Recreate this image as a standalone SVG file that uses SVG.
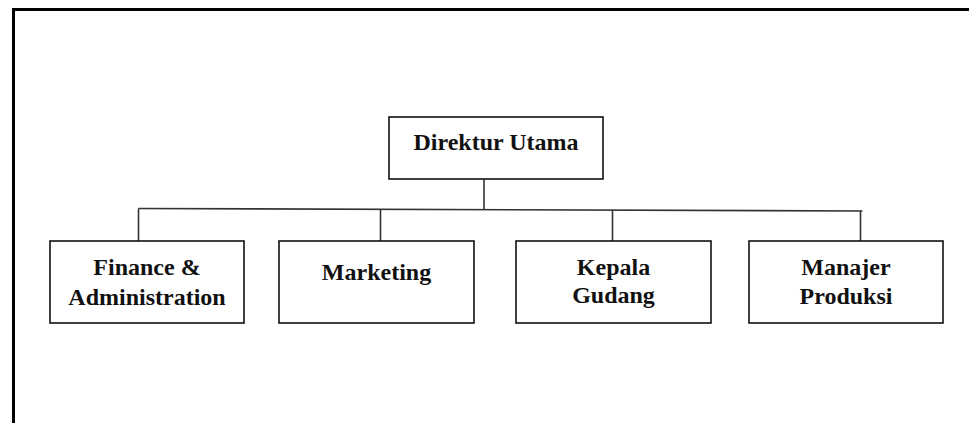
<svg xmlns="http://www.w3.org/2000/svg" width="969" height="423" viewBox="0 0 969 423">
  <style>
    .box { fill: #ffffff; stroke: #111111; stroke-width: 1.6; }
    .label { font-family: "Liberation Serif", "Times New Roman", serif; font-weight: bold; font-size: 24px; fill: #111111; text-anchor: middle; }
    .conn { fill: none; stroke: #333333; stroke-width: 1.6; }
  </style>
  <rect x="0" y="0" width="969" height="423" fill="#ffffff"/>
  <!-- outer frame, open to the right and bottom -->
  <path d="M13.5 423 V9.5 H969" fill="none" stroke="#000000" stroke-width="3"/>

  <g id="connectors">
    <path class="conn" d="M484 179 V209.5"/>
    <path class="conn" d="M138.5 208.5 L862.5 211"/>
    <path class="conn" d="M138.5 208.5 V241"/>
    <path class="conn" d="M380.5 209.3 V241"/>
    <path class="conn" d="M612.5 210.2 V241"/>
    <path class="conn" d="M860.5 211 V241"/>
  </g>

  <g id="direktur-utama">
    <rect class="box" x="389" y="117" width="214" height="62"/>
    <text class="label" x="496" y="150">Direktur Utama</text>
  </g>

  <g id="finance-administration">
    <rect class="box" x="50" y="241" width="194" height="82"/>
    <text class="label" x="147" y="275">Finance &amp;</text>
    <text class="label" x="147" y="305">Administration</text>
  </g>

  <g id="marketing">
    <rect class="box" x="279" y="241" width="195" height="82"/>
    <text class="label" x="376.5" y="280">Marketing</text>
  </g>

  <g id="kepala-gudang">
    <rect class="box" x="516" y="241" width="195" height="82"/>
    <text class="label" x="613.5" y="275">Kepala</text>
    <text class="label" x="613.5" y="303">Gudang</text>
  </g>

  <g id="manajer-produksi">
    <rect class="box" x="749" y="241" width="194" height="82"/>
    <text class="label" x="846" y="275">Manajer</text>
    <text class="label" x="846" y="304">Produksi</text>
  </g>
</svg>
